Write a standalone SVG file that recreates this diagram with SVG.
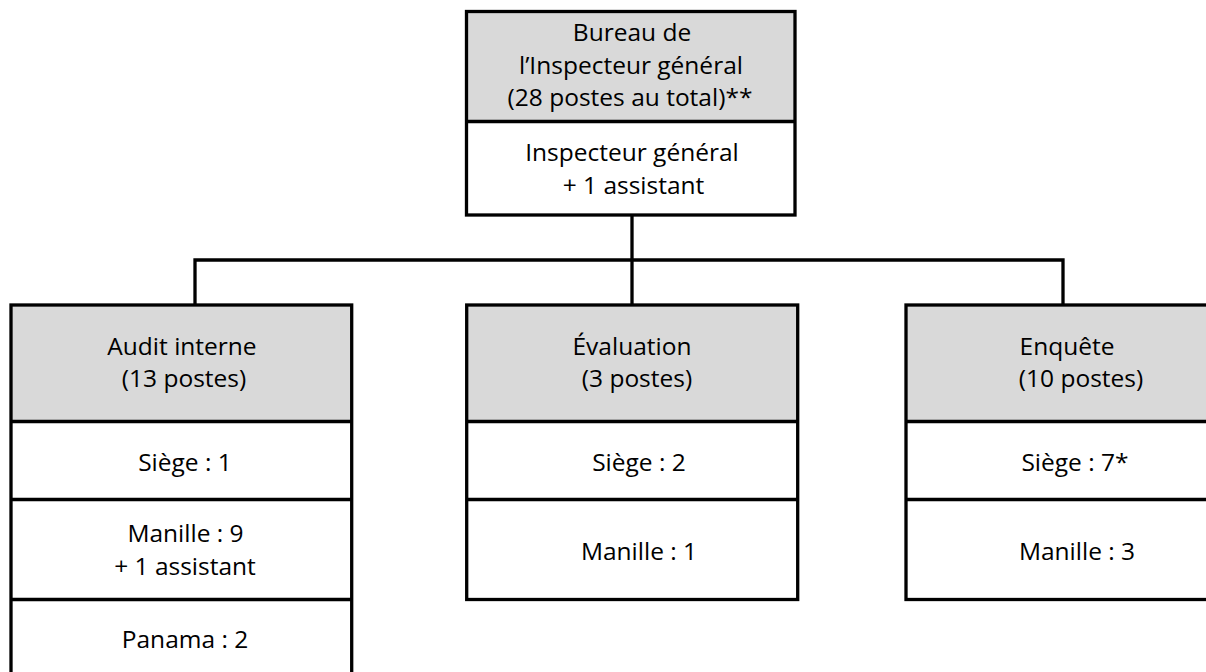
<svg xmlns="http://www.w3.org/2000/svg" width="1206" height="672" viewBox="0 0 1206 672">
<style>
.hd{fill:#d9d9d9;stroke:none}
.bx{fill:none;stroke:#000;stroke-width:3.3}
.ln{stroke:#000;stroke-width:3.3;fill:none}
text{font-family:"Open Sans","Liberation Sans",sans-serif;font-size:24.5px;fill:#000;text-anchor:middle}
</style>
<rect width="1206" height="672" fill="#fff"/>
<g id="connectors">
<path class="ln" d="M632 215V305M195 305V260H1063V305"/>
</g>
<g id="bureau">
<rect class="hd" x="466.5" y="11.5" width="328.5" height="110"/>
<rect class="bx" x="466.5" y="11.5" width="328.5" height="203.5"/>
<path class="ln" d="M466.5 121.5H795"/>
<text x="632" y="41">Bureau de</text>
<text x="631" y="73.5">l’Inspecteur général</text>
<text x="630" y="106">(28 postes au total)**</text>
<text x="632" y="161">Inspecteur général</text>
<text x="633.5" y="193.5">+ 1 assistant</text>
</g>
<g id="audit">
<rect class="hd" x="11" y="305" width="340.7" height="116.5"/>
<rect class="bx" x="11" y="305" width="340.7" height="375"/>
<path class="ln" d="M11 421.5H351.7M11 499.5H351.7M11 599.5H351.7"/>
<text x="182" y="355">Audit interne</text>
<text x="184" y="387">(13 postes)</text>
<text x="185" y="470.5">Siège : 1</text>
<text x="185.5" y="542">Manille : 9</text>
<text x="185" y="575">+ 1 assistant</text>
<text x="185" y="648">Panama : 2</text>
</g>
<g id="evaluation">
<rect class="hd" x="466.7" y="305" width="331" height="116.5"/>
<rect class="bx" x="466.7" y="305" width="331" height="294.5"/>
<path class="ln" d="M466.7 421.5H797.7M466.7 499.5H797.7"/>
<text x="632" y="355">Évaluation</text>
<text x="637" y="387">(3 postes)</text>
<text x="639" y="470.5">Siège : 2</text>
<text x="639" y="560">Manille : 1</text>
</g>
<g id="enquete">
<rect class="hd" x="906" y="305" width="340" height="116.5"/>
<rect class="bx" x="906" y="305" width="340" height="294.5"/>
<path class="ln" d="M906 421.5H1246M906 499.5H1246"/>
<text x="1067" y="355">Enquête</text>
<text x="1081" y="387">(10 postes)</text>
<text x="1075" y="470.5">Siège : 7*</text>
<text x="1077" y="560">Manille : 3</text>
</g>
</svg>
